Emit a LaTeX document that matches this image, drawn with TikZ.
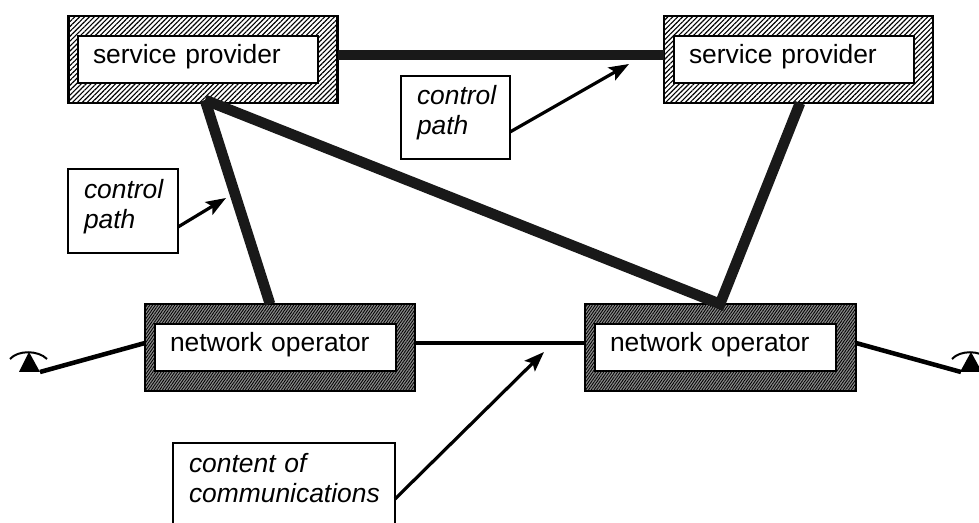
\documentclass[tikz,border=0pt]{standalone}
\usepackage{fontspec}
\setmainfont{Liberation Sans}
\usetikzlibrary{patterns.meta,arrows.meta}
\newcommand{\firststrut}{\rule{0pt}{15pt}}
\newcommand{\laststrut}{\rule[-11.25pt]{0pt}{11.25pt}}
\tikzset{
  x=0.75pt,y=-0.75pt,
  hatchbox/.style 2 args={draw=black,line width=1.6pt,rectangle,inner sep=0pt,minimum width=#1*0.75pt,minimum height=#2*0.75pt},
  sphatch/.style={hatchbox={#1}{87},pattern={Lines[angle=45,distance=2.6pt,line width=0.85pt]},pattern color=black},
  nohatch/.style={hatchbox={#1}{87},fill=white!55!black,postaction={pattern={Lines[angle=55,distance=1.7pt,line width=0.65pt]},pattern color=black}},
  innerbox/.style={draw=black,line width=1.1pt,fill=white,rectangle,inner xsep=15*0.75pt,inner ysep=0pt,
    text width=(#1-30)*0.75pt,align=left,text height=21pt,text depth=14.25pt,
    font=\fontsize{19.8pt}{22.5pt}\selectfont},
  labelbox/.style 2 args={draw=black,line width=1.6pt,fill=white,rectangle,inner xsep=16*0.75pt,inner ysep=0pt,
    text width=(#1-32)*0.75pt,minimum height=#2*0.75pt,align=left,
    font=\fontsize{19.8pt}{22.5pt}\selectfont\itshape},
  heavy/.style={line width=8pt,draw=black!90},
  medium/.style={line width=3.4pt,draw=black},
  pointer/.style={line width=2.4pt,draw=black,-{Stealth[length=15pt,width=11pt,inset=3pt]}},
  earpiece/.style={line width=1.5pt,draw=black},
  handset/.style={fill=black,draw=none},
}
\begin{document}
\begin{tikzpicture}
\path[use as bounding box,clip] (0,0) rectangle (979,523);
% outer hatched frames
\node[sphatch=269] (sp1) at (203,59.5) {};
\node[sphatch=269] (sp2) at (798.5,59.5) {};
\node[nohatch=270] (no1) at (280,347.5) {};
\node[nohatch=271] (no2) at (720.5,347.5) {};
% attachment points on the frames
\coordinate (sp1e) at (338,55);
\coordinate (sp2w) at (664,55);
\coordinate (sp1s) at (205,100);
\coordinate (sp2s) at (800,103);
\coordinate (no1n) at (270,304);
\coordinate (no2n) at (720,304);
\coordinate (no1e) at (415,343);
\coordinate (no2w) at (585,343);
\coordinate (no1w) at (145,343);
\coordinate (no2e) at (856,343);
% heavy control paths
\draw[heavy] (sp1e) -- (sp2w);
\draw[heavy] (sp1s) -- (no1n);
\draw[heavy,line join=miter] (sp1s) -- (no2n) -- (sp2s);
\draw[medium] (no1e) -- (no2w);
% inner white boxes with text
\node[innerbox=240] (sp1i) at (198,59.5) {service provider};
\node[innerbox=240] (sp2i) at (794,59.5) {service provider};
\node[innerbox=241] (no1i) at (275.5,347.5) {network operator};
\node[innerbox=241] (no2i) at (715.5,347.5) {network operator};
% telephones
\coordinate (t1) at (40,372);
\coordinate (t2) at (961,372);
\draw[medium] (no1w) -- (t1);
\draw[medium] (no2e) -- (t2);
\fill[handset] (19,372) -- (29,352) -- (40,372) -- cycle;
\draw[earpiece] (10,359) .. controls (18,350) and (38,350) .. (47,359);
\fill[handset] (960,372) -- (971,352) -- (982,372) -- cycle;
\draw[earpiece] (952,359) .. controls (960,350) and (980,350) .. (988,359);
% labels
\node[labelbox={109}{83}] (cp1) at (455.5,117.5) {\firststrut control\\path\laststrut};
\node[labelbox={110}{84}] (cp2) at (123,211) {\firststrut control\\path\laststrut};
\node[labelbox={222}{84}] (cc) at (284,485) {\firststrut content of\\communications\laststrut};
% pointers
\coordinate (p1s) at (510,132);
\coordinate (p1e) at (629,64);
\coordinate (p2s) at (178,227);
\coordinate (p2e) at (226,198);
\coordinate (p3s) at (395,499);
\coordinate (p3e) at (544,352);
\draw[pointer] (p1s) -- (p1e);
\draw[pointer] (p2s) -- (p2e);
\draw[pointer] (p3s) -- (p3e);
\end{tikzpicture}
\end{document}
